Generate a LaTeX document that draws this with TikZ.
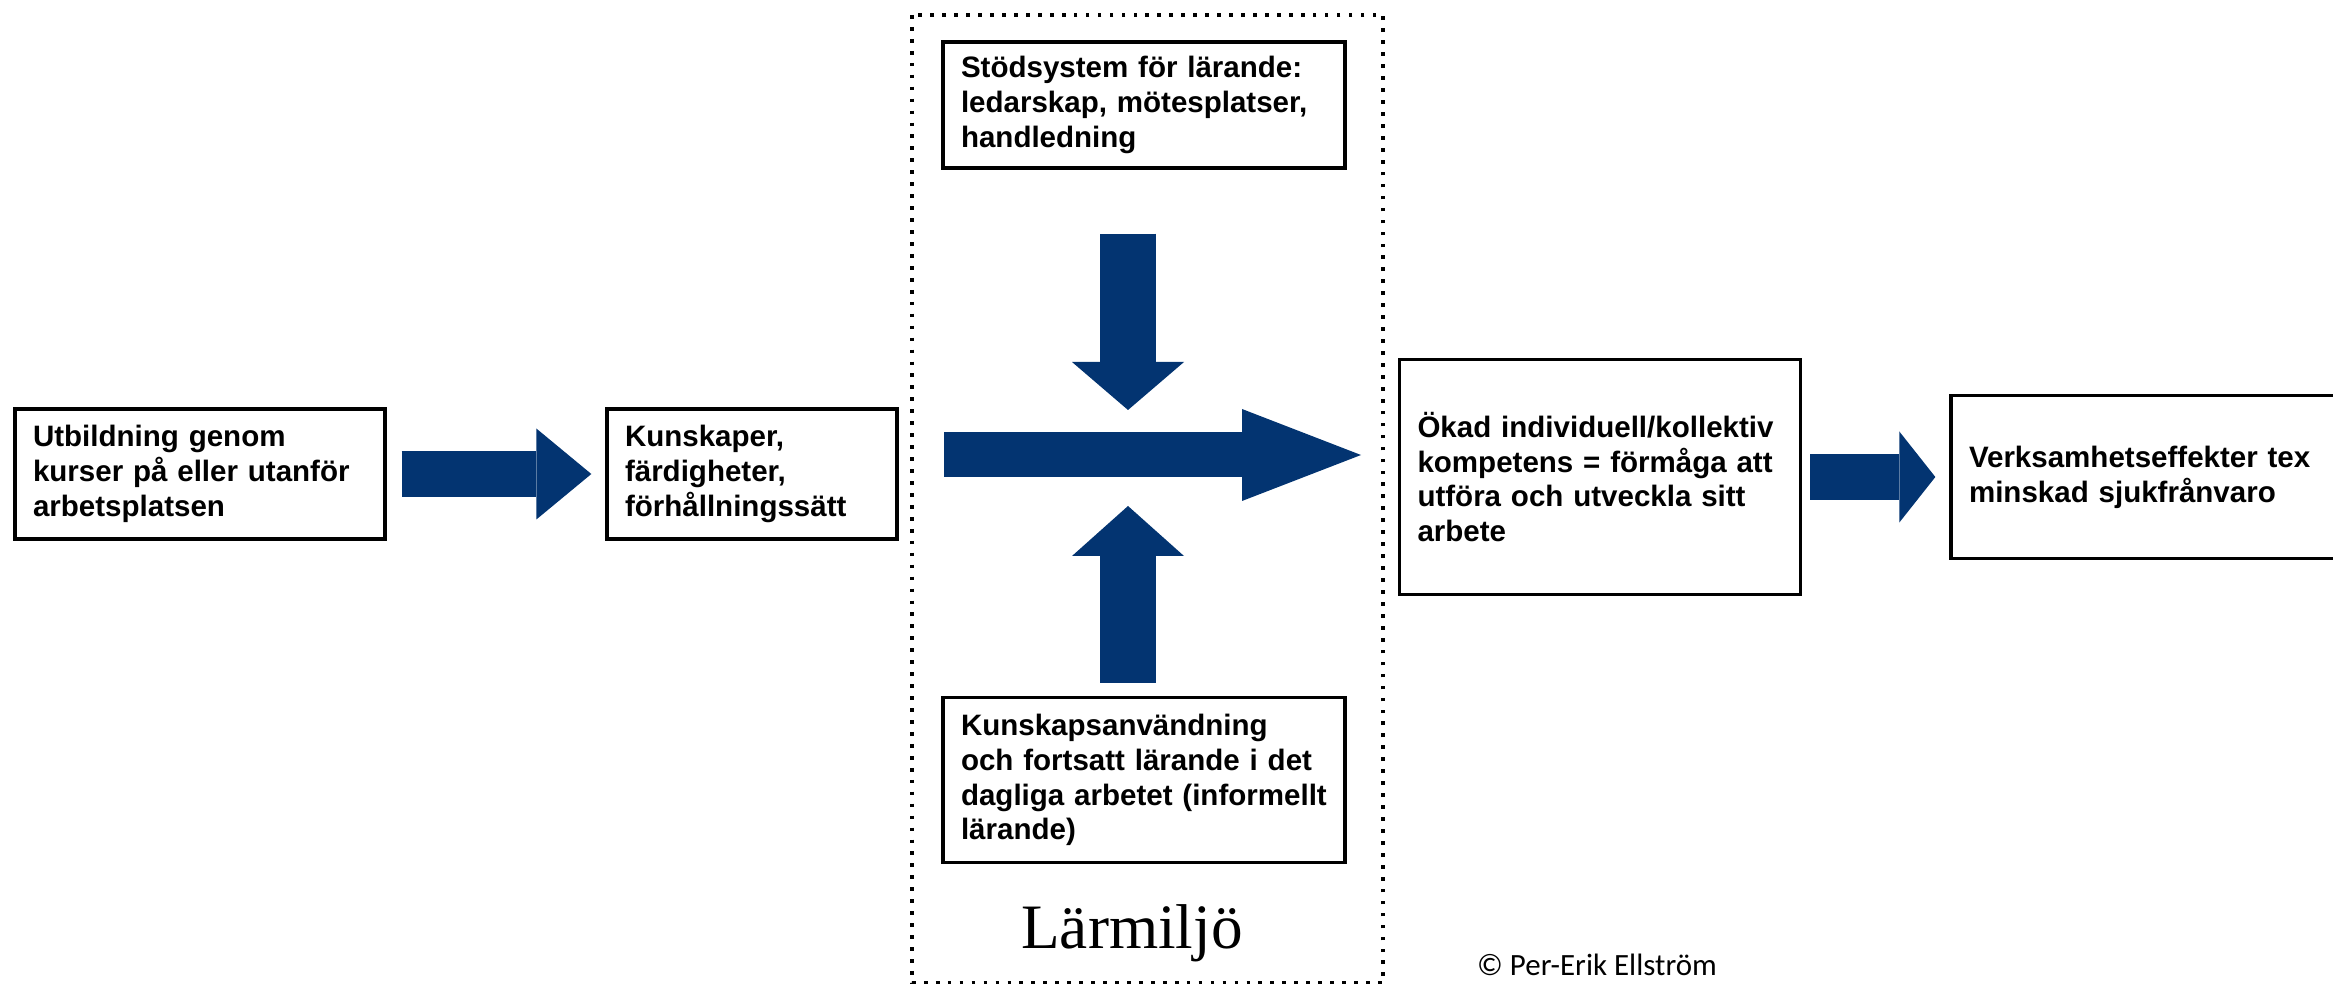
\documentclass[tikz,border=0pt]{standalone}
\usepackage{fontspec}
\setmainfont{Liberation Sans}
\newfontfamily\timesfont{Liberation Serif}
\newfontfamily\calibrifont{Carlito}
\usepackage{xcolor}
\usetikzlibrary{arrows.meta,positioning,calc}
\definecolor{navy}{RGB}{3,52,113}

\begin{document}
\begin{tikzpicture}[
  x=0.1mm, y=-0.1mm,
  bx/.style={draw, line width=0.95pt, align=left, inner xsep=1.8mm, inner ysep=0pt,
             font=\fontsize{8.4}{9.9}\selectfont\bfseries},
  blk/.style n args={3}{draw=navy, line width=#1,
             -{Triangle[length=#2, width=#3, line width=0pt]}},
  dotbox/.style={line width=1.05pt, dash pattern=on 1.05pt off 2.35pt}
]
  \path[use as bounding box, clip] (0,0) rectangle (2333,984);

  % boxes
  \node[bx, text width=33.4mm, minimum height=13mm] (U) at (200,474)
    {Utbildning genom\\kurser på eller utanför\\arbetsplatsen};
  \node[bx, text width=25.4mm, minimum height=13mm] (K) at (752,474)
    {Kunskaper,\\färdigheter,\\förhållningssätt};
  \node[bx, text width=36.6mm, minimum height=12.6mm] (S) at (1144,105)
    {Stödsystem för lärande:\\ledarskap, mötesplatser,\\handledning};
  \node[bx, text width=36.6mm, minimum height=16.5mm] (A) at (1144,780)
    {Kunskapsanvändning\\och fortsatt lärande i det\\dagliga arbetet (informellt\\lärande)};
  \node[bx, text width=36.5mm, minimum height=23.5mm] (O) at (1600,477)
    {Ökad individuell/kollektiv\\kompetens = förmåga att\\utföra och utveckla sitt\\arbete};
  \node[bx, text width=35.8mm, minimum height=16.3mm] (V) at (2148,477)
    {Verksamhetseffekter tex\\minskad sjukfrånvaro};

  % learning environment
  \draw[dotbox] (912,15) rectangle (1383,983);
  \node[font=\timesfont\fontsize{18}{20}\selectfont, anchor=base] (L) at (1132,948) {Lärmiljö};

  % block arrows
  \draw[blk={4.6mm}{5.5mm}{9.1mm}] ([xshift=1.5mm]U.east) -- ([xshift=-1.4mm]K.west);
  \draw[blk={4.6mm}{3.6mm}{9.1mm}] ([xshift=0.8mm]O.east) -- ([xshift=-1.4mm]V.west);
  \coordinate (ml) at (944,455);
  \coordinate (mr) at (1361,455);
  \draw[blk={4.5mm}{11.9mm}{9.2mm}] (ml) -- (mr);
  \coordinate (dn) at (1128,410);
  \coordinate (up) at (1128,506);
  \draw[blk={5.6mm}{4.8mm}{11.2mm}, shorten <=6.4mm] (S.south -| dn) -- (dn);
  \draw[blk={5.6mm}{5.0mm}{11.2mm}, shorten <=1.3mm] (A.north -| up) -- (up);

  \node[font=\calibrifont\fontsize{8.8}{10}\selectfont, anchor=base] (C) at (1597,975)
    {© Per-Erik Ellström};
\end{tikzpicture}
\end{document}
